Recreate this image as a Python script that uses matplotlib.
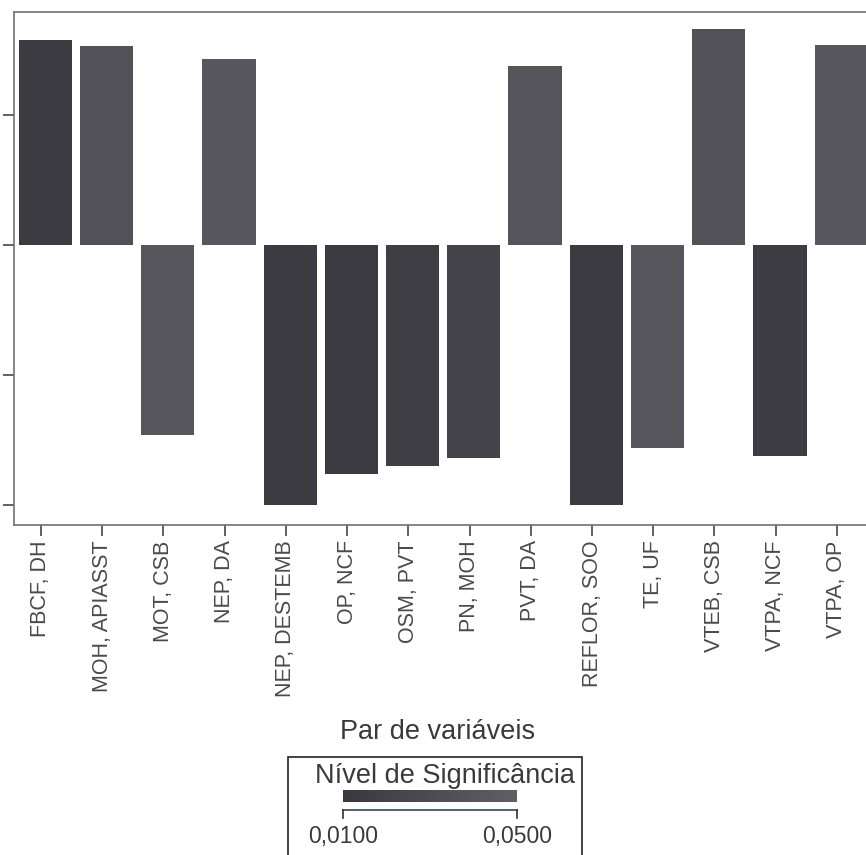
import numpy as np
import matplotlib
matplotlib.use('Agg')
import matplotlib.pyplot as plt
from matplotlib.colors import LinearSegmentedColormap, Normalize
from matplotlib.patches import Rectangle

plt.rcParams['font.family'] = ['Liberation Sans', 'DejaVu Sans']

# pares de variaveis, coeficiente e nivel de significancia
pares = ['FBCF, DH', 'MOH, APIASST', 'MOT, CSB', 'NEP, DA', 'NEP, DESTEMB',
         'OP, NCF', 'OSM, PVT', 'PN, MOH', 'PVT, DA', 'REFLOR, SOO',
         'TE, UF', 'VTEB, CSB', 'VTPA, NCF', 'VTPA, OP']
coef = [0.79, 0.765, -0.73, 0.715, -1.0, -0.88, -0.85, -0.82, 0.69, -1.0,
        -0.78, 0.83, -0.81, 0.77]
signif = [0.012, 0.035, 0.040, 0.042, 0.012, 0.011, 0.015, 0.020, 0.038,
          0.012, 0.040, 0.036, 0.013, 0.042]
yticks = [-1.0, -0.5, 0.0, 0.5]
sig_min, sig_max = 0.0100, 0.0500

cmap = LinearSegmentedColormap.from_list('sig', ['#3a393f', '#605f66'])
norm = Normalize(sig_min, sig_max)

W, H = 866, 855
fig = plt.figure(figsize=(W / 100, H / 100), dpi=100)

# eixo principal (passa um pouco da borda direita)
x0, x1, ytop, ybot = 14, 870, 12, 525
ax = fig.add_axes([x0 / W, 1 - ybot / H, (x1 - x0) / W, (ybot - ytop) / H])

x = np.arange(len(pares))
# as barras ficam um pouco deslocadas para a direita dos ticks
ax.bar(x + 0.07, coef, width=0.87, color=cmap(norm(np.array(signif))), edgecolor='none')

ax.set_xlim(-0.44, 13.54)
ax.set_ylim(-1.077, 0.896)
ax.set_yticks(yticks)
ax.set_yticklabels([])
ax.set_xticks(x)
ax.set_xticklabels(pares, rotation=90, fontsize=15.5, color='#4a4a4a')
ax.tick_params(axis='both', direction='out', length=8, width=1.3, color='#555555')
ax.tick_params(axis='x', pad=3)
for s in ['left', 'bottom', 'top', 'right']:
    ax.spines[s].set_color('#707070')
    ax.spines[s].set_linewidth(1.2)

fig.text(438 / W, 1 - 732 / H, 'Par de variáveis', fontsize=19.5, color='#3a3a3a',
         ha='center', va='center')

# caixa da legenda de cores
fig.patches.append(Rectangle((288 / W, 1 - 870 / H), (582 - 288) / W, (870 - 757) / H,
                             transform=fig.transFigure, fill=False,
                             edgecolor='#222222', linewidth=1.2))
fig.text(445 / W, 1 - 776 / H, 'Nível de Significância', fontsize=19.5, color='#3a3a3a',
         ha='center', va='center')

cax = fig.add_axes([343 / W, 1 - 802 / H, (517 - 343) / W, 12 / H])
grad = np.linspace(sig_min, sig_max, 256).reshape(1, -1)
cax.imshow(grad, aspect='auto', cmap=cmap, norm=norm,
           extent=[sig_min, sig_max, 0, 1])
cax.set_axis_off()

# regua abaixo da barra de cores
lax = fig.add_axes([343 / W, 1 - 820 / H, (517 - 343) / W, 10 / H])
lax.set_xlim(sig_min, sig_max)
lax.set_ylim(0, 1)
lax.plot([sig_min, sig_max], [1, 1], color='#3f5a60', lw=1.3, clip_on=False)
lax.plot([sig_min, sig_min], [0.2, 1], color='#333333', lw=1.2, clip_on=False)
lax.plot([sig_max, sig_max], [0.2, 1], color='#333333', lw=1.2, clip_on=False)
lax.set_axis_off()
for v in [sig_min, sig_max]:
    fig.text((343 + (v - sig_min) / (sig_max - sig_min) * 174) / W, 1 - 836 / H,
             f'{v:.4f}'.replace('.', ','), fontsize=16.5, color='#3a3a3a',
             ha='center', va='center')

fig.savefig('out.png', dpi=100, facecolor='white')
